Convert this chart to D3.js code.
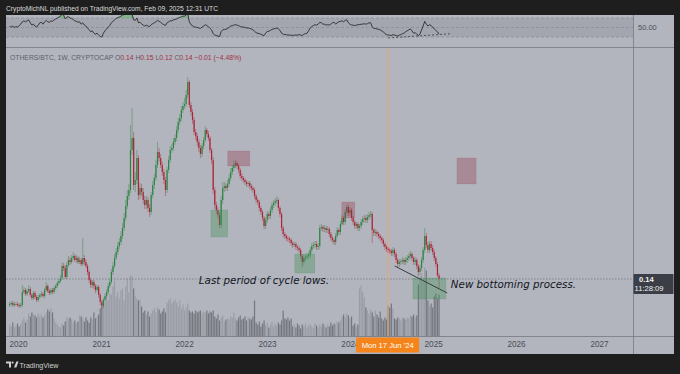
<!DOCTYPE html>
<html>
<head>
<meta charset="utf-8">
<script src="https://cdn.jsdelivr.net/npm/d3@7"></script>
<style>
  body { margin: 0; background: #1e1e1e; }
  svg { display: block; }
</style>
</head>
<body>
<svg id="chart" width="680" height="374"></svg>
<script>
// OTHERS/BTC weekly candles
const firstWeek = "2019-11-25";
const firstOpen = 0.086;

const closes = [
  .088,.090,.086,.088,.088,.086,.084,.086, .112,.116,.108,.114,.118,.106,.100,.110,
  .102,.096,.102,.106,.108,.104,.116,.124, .114,.110,.116,.112,.120,.124,.130,.134,
  .140,.164,.160,.142,.166,.176,.172,.180, .184,.176,.180,.172,.176,.168,.180,.172,
  .164,.152,.136,.126,.132,.124,.116,.122, .106,.092,.084,.096,.104,.112,.124,.132,
  .152,.164,.180,.192,.204,.212,.224,.240, .260,.284,.304,.316,.396,.420,.326,.336,
  .380,.306,.320,.312,.296,.286,.296,.280, .272,.306,.326,.340,.366,.392,.380,.366,
  .352,.336,.316,.356,.376,.396,.400,.412, .420,.436,.452,.460,.476,.484,.488,.506,
  .532,.486,.472,.456,.432,.424,.412,.400, .388,.404,.416,.436,.428,.420,.396,.376,
  .316,.286,.276,.266,.246,.296,.320,.324, .320,.328,.340,.352,.360,.366,.370,.364,
  .356,.344,.340,.336,.332,.328,.330,.324, .320,.316,.304,.296,.292,.280,.272,.260,
  .244,.256,.268,.264,.276,.286,.290,.294, .296,.280,.268,.240,.228,.224,.220,.218,
  .216,.210,.206,.208,.202,.200,.196,.184, .172,.180,.182,.184,.186,.196,.204,.206,
  .208,.202,.204,.240,.242,.238,.240,.236, .238,.228,.220,.216,.212,.224,.236,.232,
  .248,.260,.252,.272,.282,.270,.276,.260, .252,.244,.248,.240,.244,.252,.258,.260,
  .256,.262,.266,.268,.236,.230,.232,.228, .224,.220,.216,.208,.202,.198,.196,.194,
  .190,.196,.188,.176,.168,.172,.174,.176, .172,.176,.180,.184,.188,.180,.172,.176,
  .164,.152,.160,.176,.196,.224,.206,.196, .208,.200,.192,.180,.168,.145,.138
];
const highs = [
  .092,.094,.094,.092,.092,.092,.090,.090, .126,.122,.120,.118,.126,.122,.110,.114,
  .114,.106,.106,.110,.114,.112,.120,.132, .128,.118,.120,.120,.124,.128,.134,.138,
  .146,.172,.170,.166,.172,.184,.182,.186, .192,.188,.186,.184,.182,.180,.220,.186,
  .178,.168,.156,.140,.136,.136,.128,.126, .126,.110,.096,.100,.110,.118,.130,.138,
  .158,.172,.188,.200,.212,.220,.234,.250, .270,.296,.316,.328,.446,.480,.432,.352,
  .396,.386,.330,.328,.320,.304,.304,.302, .288,.312,.334,.348,.376,.412,.400,.388,
  .372,.358,.342,.362,.384,.404,.408,.420, .428,.444,.460,.468,.484,.492,.500,.516,
  .542,.536,.492,.478,.462,.438,.430,.418, .406,.410,.422,.444,.440,.434,.424,.400,
  .382,.322,.292,.282,.272,.304,.332,.332, .330,.336,.348,.360,.366,.374,.376,.374,
  .368,.360,.350,.344,.340,.336,.334,.334, .328,.324,.320,.308,.300,.296,.284,.276,
  .264,.262,.274,.272,.282,.292,.296,.300, .304,.300,.284,.272,.244,.232,.228,.224,
  .222,.220,.214,.212,.212,.206,.204,.200, .188,.186,.186,.190,.192,.202,.210,.212,
  .214,.214,.210,.246,.248,.246,.246,.244, .244,.242,.232,.224,.220,.230,.242,.240,
  .254,.266,.264,.278,.288,.286,.282,.280, .264,.256,.252,.252,.248,.258,.264,.266,
  .266,.268,.272,.274,.272,.240,.238,.236, .232,.228,.224,.220,.212,.206,.202,.200,
  .198,.202,.200,.192,.180,.178,.178,.182, .180,.182,.186,.190,.194,.192,.184,.182,
  .180,.168,.166,.182,.202,.240,.230,.212, .214,.214,.206,.196,.184,.172,.150
];
const lows = [
  .082,.084,.082,.082,.084,.082,.080,.080, .082,.108,.104,.104,.110,.102,.096,.096,
  .098,.092,.092,.098,.102,.100,.100,.112, .110,.106,.106,.108,.108,.116,.120,.126,
  .130,.136,.154,.138,.138,.162,.166,.168, .176,.172,.170,.168,.168,.164,.164,.166,
  .160,.146,.130,.120,.120,.118,.110,.112, .100,.086,.078,.080,.092,.100,.108,.120,
  .128,.146,.160,.176,.186,.198,.206,.218, .234,.254,.278,.296,.310,.386,.316,.312,
  .328,.296,.298,.304,.288,.278,.278,.272, .262,.266,.300,.318,.334,.360,.372,.360,
  .344,.328,.304,.310,.350,.370,.390,.394, .406,.414,.430,.446,.454,.470,.478,.482,
  .500,.480,.464,.448,.426,.416,.404,.392, .380,.382,.398,.412,.422,.414,.390,.368,
  .308,.278,.268,.258,.240,.240,.288,.312, .314,.314,.322,.334,.346,.354,.360,.358,
  .350,.338,.334,.330,.326,.322,.322,.318, .314,.310,.298,.290,.286,.274,.266,.254,
  .238,.238,.250,.258,.258,.270,.280,.284, .288,.274,.262,.234,.222,.218,.214,.212,
  .210,.204,.200,.202,.196,.194,.190,.178, .162,.166,.174,.176,.178,.180,.190,.198,
  .200,.196,.196,.198,.234,.232,.232,.230, .230,.222,.214,.210,.206,.206,.220,.226,
  .226,.244,.246,.246,.266,.264,.264,.254, .246,.238,.238,.234,.234,.238,.246,.252,
  .250,.250,.256,.260,.210,.224,.224,.222, .218,.214,.210,.202,.196,.192,.190,.188,
  .184,.184,.182,.170,.162,.162,.166,.168, .166,.166,.170,.174,.178,.174,.166,.166,
  .158,.144,.146,.154,.170,.190,.200,.190, .190,.194,.186,.174,.162,.142,.120
];
const volumes = [
  12,10,14,9,11,13,10,12, 16,19,14,17, 23,20,24,22, 21,19,23,20,22,19,21,24,
  27,25,28,24, 18,14,12,10,9,13, 11,15, 19,18,19,17, 14,16,13, 15,21,20,
  18,15,19,16,14,19,17, 24, 18,20,22, 28,30, 38,34, 40,36,43,
  42,50,56,40,44,38,46,48,36,50,58,44,61,60,48,40,38,36,
  37,30,24,26,22,25,20,23, 26,28,24,29,27,23,25,28,24, 34,36,38,33,35,37,34,
  30,36,28,32,26, 29,33, 26,24,25,23,26,24,25,26,23,25,24,26,23,25,24,26,
  20,18,22,16,19,21,15,17, 18,17,20,19,24,18,16,19,21,17,18,20,16,19,18,17,
  20,36, 14,12,15,10,13,16,11,14,9,12,15,10,13,11,14,12,16, 26,18,17,19,16,18,
  10,12,9,13,11,8,12,10,13,9,11,12,10,8,13,11,9,12,10,13,11,9,12,10,14,11,13,12,15,14,16,
  20,22,19,23,21,18,20, 11,13,9,12, 48,51,44, 39, 29,26,23,27, 24,20,26,22,19,25,
  18,16,19,17, 31,29,33,28, 18,17,19,18,16,19,18,17,19,18, 21,20,22,19,21,
  52,60,63,55, 69,66, 36,30,33,29, 40,43,38,42
];
const rsi = [
  52,51,53,50,52,51, 54,57,62,64,62,64,66,60,55,57, 53,51,55,60,61,57,62,65,62,61,
  64,63,66,68,70,72,74,78,76,68, 72,73,70,69,67,64,63,61,62,57, 60,55,53,49,45,41,43,38,36,38,
  34,31,30,38,43,47,51,54,60,63, 66,69,71,72,74,76,77,78,80,78, 81,78,66,65,70,60,61,58,55,53,
  55,53,52,56,58,60,62,65,63,61, 58,56,54,60,62,64,64,66,67,68, 70,71,73,74,74,76,80,62,56,54,
  51,51,50,49,48,51,53,56,54,52, 48,45,37,34,33,32,31,41,45,46, 46,48,50,53,54,55,56,55,54,52,
  51,51,50,49,49,48,47,45,42,39, 38,37,36,34,33,38,42,42,44,46, 47,48,49,47,44,38,36,35,35,34,
  34,34,33,34,34,34,35,34,33,36, 37,38,43,49,52,54,56,55,57,61, 60,57,57,55,56,55,57,60,61,57,
  60,62,63,64,62,65,66,60,57,55, 55,54,55,56,56,57,57,58,57,58, 60,60,51,48,48,47,46,45,43,41,
  37,35,34,34,33,35,34,33,32,34, 35,37,38,41,43,45,47,43,38,39, 36,33,36,45,53,63,57,53,56,54,
  51,47,44,41,36
];

const yearTicks = [2020, 2021, 2022, 2023, 2024, 2025, 2026, 2027];
const rsiLevels = [70, 50, 30];

// drawings on the chart: [from, to, top price, bottom price]
const redBoxes = [
  ["2022-07-12", "2022-10-17", 0.394, 0.364],
  ["2023-11-26", "2024-01-22", 0.292, 0.260],
  ["2025-04-16", "2025-07-09", 0.380, 0.328]
];
const greenBoxes = [
  ["2022-04-29", "2022-07-12", 0.276, 0.222],
  ["2023-05-03", "2023-07-30", 0.188, 0.150],
  ["2024-10-04", "2025-02-26", 0.140, 0.098]
];
const trendLine = [["2024-07-16", 0.164], ["2025-03-04", 0.110]];
const rsiTrend = [["2024-06-17", 27.9], ["2025-03-23", 37]];
const notes = [
  { date: "2022-03-07", price: 0.128, text: "Last period of cycle lows." },
  { date: "2025-03-20", price: 0.120, text: "New bottoming process." }
];
const crosshairDate = "2024-06-17";
const crosshairLabel = "Mon 17 Jun '24";
const lastLabel = ["0.14", "11:28:09"];

const header = "CryptoMichNL published on TradingView.com, Feb 09, 2025 12:31 UTC";
const symbolText = "OTHERS/BTC, 1W, CRYPTOCAP";
const ohlc = [["O", "0.14"], ["H", "0.15"], ["L", "0.12"], ["C", "0.14"]];
const changeText = "\u22120.01 (\u22124.48%)";

// ---------------------------------------------------------------
const parseDay = d3.utcParse("%Y-%m-%d");
const start = parseDay(firstWeek);
const bars = closes.map((c, i) => ({
  date: d3.utcMonday.offset(start, i),
  o: i === 0 ? firstOpen : closes[i - 1],
  h: highs[i], l: lows[i], c: c,
  v: volumes[i], r: rsi[i]
}));

const W = 680, H = 374;
const left = 6, right = 633, frameRight = 674;
const rsiTop = 15, rsiBottom = 47, mainBottom = 336.5;

const x = d3.scaleUtc()
  .domain([new Date(Date.UTC(2020, 0, 1)), new Date(Date.UTC(2027, 0, 1))])
  .range([18, 599]);
const y = d3.scaleLinear().domain([0, 0.6]).range([348, 48]);
const yVol = d3.scaleLinear().domain([0, 80]).range([mainBottom, mainBottom - 80]);
const yRsi = d3.scaleLinear().domain([30, 70]).range([37, 18]);

const upCol = "#2c8440", downCol = "#ad2436";
const bg = "#b2b5be";

const svg = d3.select("#chart");
svg.append("rect").attr("width", W).attr("height", H).attr("fill", "#1e1e1e");
svg.append("rect").attr("x", left).attr("y", rsiTop)
  .attr("width", frameRight - left).attr("height", 354 - rsiTop).attr("fill", bg);

const defs = svg.append("defs");
defs.append("clipPath").attr("id", "clipMain").append("rect")
  .attr("x", left).attr("y", rsiBottom + 0.5).attr("width", right - left).attr("height", mainBottom - rsiBottom - 0.5);
defs.append("clipPath").attr("id", "clipRsi").append("rect")
  .attr("x", left).attr("y", rsiTop).attr("width", right - left).attr("height", rsiBottom - rsiTop);

// header
svg.append("text").attr("x", 6).attr("y", 10.5)
  .attr("font-family", "Liberation Sans, Arial, sans-serif").attr("font-size", 6.6)
  .attr("fill", "#dcdcdc").attr("textLength", 212).attr("lengthAdjust", "spacingAndGlyphs")
  .text(header);

// ---- RSI pane
const rsiG = svg.append("g").attr("clip-path", "url(#clipRsi)");
rsiG.append("rect").attr("x", left).attr("width", right - left)
  .attr("y", yRsi(70)).attr("height", yRsi(30) - yRsi(70)).attr("fill", "#a3a6ae");
rsiG.selectAll("line.lvl").data(rsiLevels).join("line").attr("class", "lvl")
  .attr("x1", left).attr("x2", right)
  .attr("y1", d => yRsi(d)).attr("y2", d => yRsi(d))
  .attr("stroke", "#878a93").attr("stroke-width", 0.7).attr("stroke-dasharray", "3,2");
rsiG.append("path").datum(bars)
  .attr("d", d3.area().x(d => x(d.date)).y0(yRsi(70)).y1(d => yRsi(Math.max(d.r, 70))))
  .attr("fill", "rgba(76,175,80,0.45)");
rsiG.append("path").datum(bars)
  .attr("d", d3.line().x(d => x(d.date)).y(d => yRsi(d.r)))
  .attr("fill", "none").attr("stroke", "#2b2b2e").attr("stroke-width", 0.9);
rsiG.append("line")
  .attr("x1", x(parseDay(rsiTrend[0][0]))).attr("y1", yRsi(rsiTrend[0][1]))
  .attr("x2", x(parseDay(rsiTrend[1][0]))).attr("y2", yRsi(rsiTrend[1][1]))
  .attr("stroke", "#3a3c42").attr("stroke-width", 0.8).attr("stroke-dasharray", "2,2");

svg.append("text").attr("x", 638).attr("y", yRsi(50) + 2.5)
  .attr("font-family", "Liberation Sans, Arial, sans-serif").attr("font-size", 7.5)
  .attr("fill", "#4c4f58").text("50.00");

// ---- main pane
const mainG = svg.append("g").attr("clip-path", "url(#clipMain)");

// volume
mainG.append("g").selectAll("rect").data(bars).join("rect")
  .attr("x", d => x(d.date) - 0.6).attr("width", 1.2)
  .attr("y", d => yVol(d.v)).attr("height", d => yVol(0) - yVol(d.v))
  .attr("fill", d => d.c >= d.o ? "#9a9da5" : "#74777e");

// last price dotted line
mainG.append("line").attr("x1", left).attr("x2", right)
  .attr("y1", y(closes[closes.length - 1])).attr("y2", y(closes[closes.length - 1]))
  .attr("stroke", "#6a6d76").attr("stroke-width", 0.7).attr("stroke-dasharray", "1.5,1.5");

// crosshair
mainG.append("line")
  .attr("x1", x(parseDay(crosshairDate))).attr("x2", x(parseDay(crosshairDate)))
  .attr("y1", rsiBottom).attr("y2", mainBottom)
  .attr("stroke", "#eea56a").attr("stroke-width", 1);

// candles
const candle = mainG.append("g").selectAll("g").data(bars).join("g");
candle.append("line")
  .attr("x1", d => x(d.date)).attr("x2", d => x(d.date))
  .attr("y1", d => y(d.h)).attr("y2", d => y(d.l))
  .attr("stroke", d => d.c >= d.o ? upCol : downCol)
  .attr("stroke-width", 0.8).attr("stroke-opacity", 0.55);
candle.append("rect")
  .attr("x", d => x(d.date) - 0.6).attr("width", 1.2)
  .attr("y", d => y(Math.max(d.o, d.c)))
  .attr("height", d => Math.max(0.8, Math.abs(y(d.o) - y(d.c))))
  .attr("fill", d => d.c >= d.o ? upCol : downCol);

// boxes
function drawBoxes(list, fill, stroke) {
  mainG.append("g").selectAll("rect").data(list).join("rect")
    .attr("x", d => x(parseDay(d[0]))).attr("width", d => x(parseDay(d[1])) - x(parseDay(d[0])))
    .attr("y", d => y(d[2])).attr("height", d => y(d[3]) - y(d[2]))
    .attr("fill", fill).attr("stroke", stroke).attr("stroke-width", 0.6);
}
drawBoxes(greenBoxes, "rgba(60,140,80,0.35)", "rgba(60,140,80,0.25)");
drawBoxes(redBoxes, "rgba(150,50,70,0.33)", "rgba(150,50,70,0.2)");

// trend line
mainG.append("line")
  .attr("x1", x(parseDay(trendLine[0][0]))).attr("y1", y(trendLine[0][1]))
  .attr("x2", x(parseDay(trendLine[1][0]))).attr("y2", y(trendLine[1][1]))
  .attr("stroke", "#2e3036").attr("stroke-width", 0.9);

// notes
mainG.selectAll("text.note").data(notes).join("text").attr("class", "note")
  .attr("x", d => x(parseDay(d.date))).attr("y", d => y(d.price))
  .attr("font-family", "DejaVu Sans, sans-serif").attr("font-style", "italic")
  .attr("font-size", 10.3).attr("fill", "#131722")
  .text(d => d.text);

// legend
const legend = svg.append("text").attr("x", 10).attr("y", 59.5)
  .attr("font-family", "Liberation Sans, Arial, sans-serif").attr("font-size", 6.8);
legend.append("tspan").attr("fill", "#5d606b").text(symbolText + "  ");
ohlc.forEach(([k, v]) => {
  legend.append("tspan").attr("fill", "#5d606b").text(k);
  legend.append("tspan").attr("fill", "#a3303e").text(v + "  ");
});
legend.append("tspan").attr("fill", "#a3303e").text(changeText);

// separators
svg.append("line").attr("x1", left).attr("x2", frameRight).attr("y1", rsiBottom + 0.5).attr("y2", rsiBottom + 0.5)
  .attr("stroke", "#75787f").attr("stroke-width", 0.8);
svg.append("line").attr("x1", left).attr("x2", frameRight).attr("y1", mainBottom).attr("y2", mainBottom)
  .attr("stroke", "#75787f").attr("stroke-width", 0.8);
svg.append("line").attr("x1", right + 0.5).attr("x2", right + 0.5).attr("y1", rsiTop).attr("y2", 354)
  .attr("stroke", "#75787f").attr("stroke-width", 0.8);

// time axis
const axis = d3.axisBottom(x)
  .tickValues(yearTicks.map(yr => new Date(Date.UTC(yr, 0, 1))))
  .tickFormat(d3.utcFormat("%Y")).tickSize(0).tickPadding(5);
const axG = svg.append("g").attr("transform", `translate(0,${mainBottom})`).call(axis);
axG.select(".domain").remove();
axG.selectAll("text").attr("font-family", "Liberation Sans, Arial, sans-serif")
  .attr("font-size", 8.2).attr("fill", "#4a4d56");

// crosshair date label
const cx = x(parseDay(crosshairDate));
svg.append("rect").attr("x", cx - 32).attr("y", 337.5).attr("width", 63).attr("height", 15)
  .attr("fill", "#f5841a");
svg.append("text").attr("x", cx - 0.5).attr("y", 348).attr("text-anchor", "middle")
  .attr("font-family", "Liberation Sans, Arial, sans-serif").attr("font-size", 8)
  .attr("fill", "#ffffff").attr("textLength", 52).attr("lengthAdjust", "spacingAndGlyphs")
  .text(crosshairLabel);

// last price label
const ly = y(closes[closes.length - 1]);
svg.append("rect").attr("x", right + 0.5).attr("y", ly - 5).attr("width", 40).attr("height", 20)
  .attr("rx", 1).attr("fill", "#3b3e47");
svg.append("text").attr("x", 639).attr("y", ly + 3)
  .attr("font-family", "Liberation Sans, Arial, sans-serif").attr("font-size", 7.6)
  .attr("font-weight", "bold").attr("fill", "#f0f0f0").text(lastLabel[0]);
svg.append("text").attr("x", 634.5).attr("y", ly + 12)
  .attr("font-family", "Liberation Sans, Arial, sans-serif").attr("font-size", 7.6)
  .attr("fill", "#f0f0f0").text(lastLabel[1]);

// TradingView footer
const logo = svg.append("g").attr("fill", "#d0d0d0");
logo.append("path").attr("d", "M6 361.5h5v6h-2v-4h-3z");
logo.append("circle").attr("cx", 12.6).attr("cy", 362.6).attr("r", 1.1);
logo.append("path").attr("d", "M14 367.5L16.3 361.5H18.6L16.3 367.5z");
svg.append("text").attr("x", 19.5).attr("y", 367.5)
  .attr("font-family", "Liberation Sans, Arial, sans-serif").attr("font-size", 7)
  .attr("fill", "#d0d0d0").attr("textLength", 39).attr("lengthAdjust", "spacingAndGlyphs")
  .text("TradingView");
</script>
</body>
</html>
